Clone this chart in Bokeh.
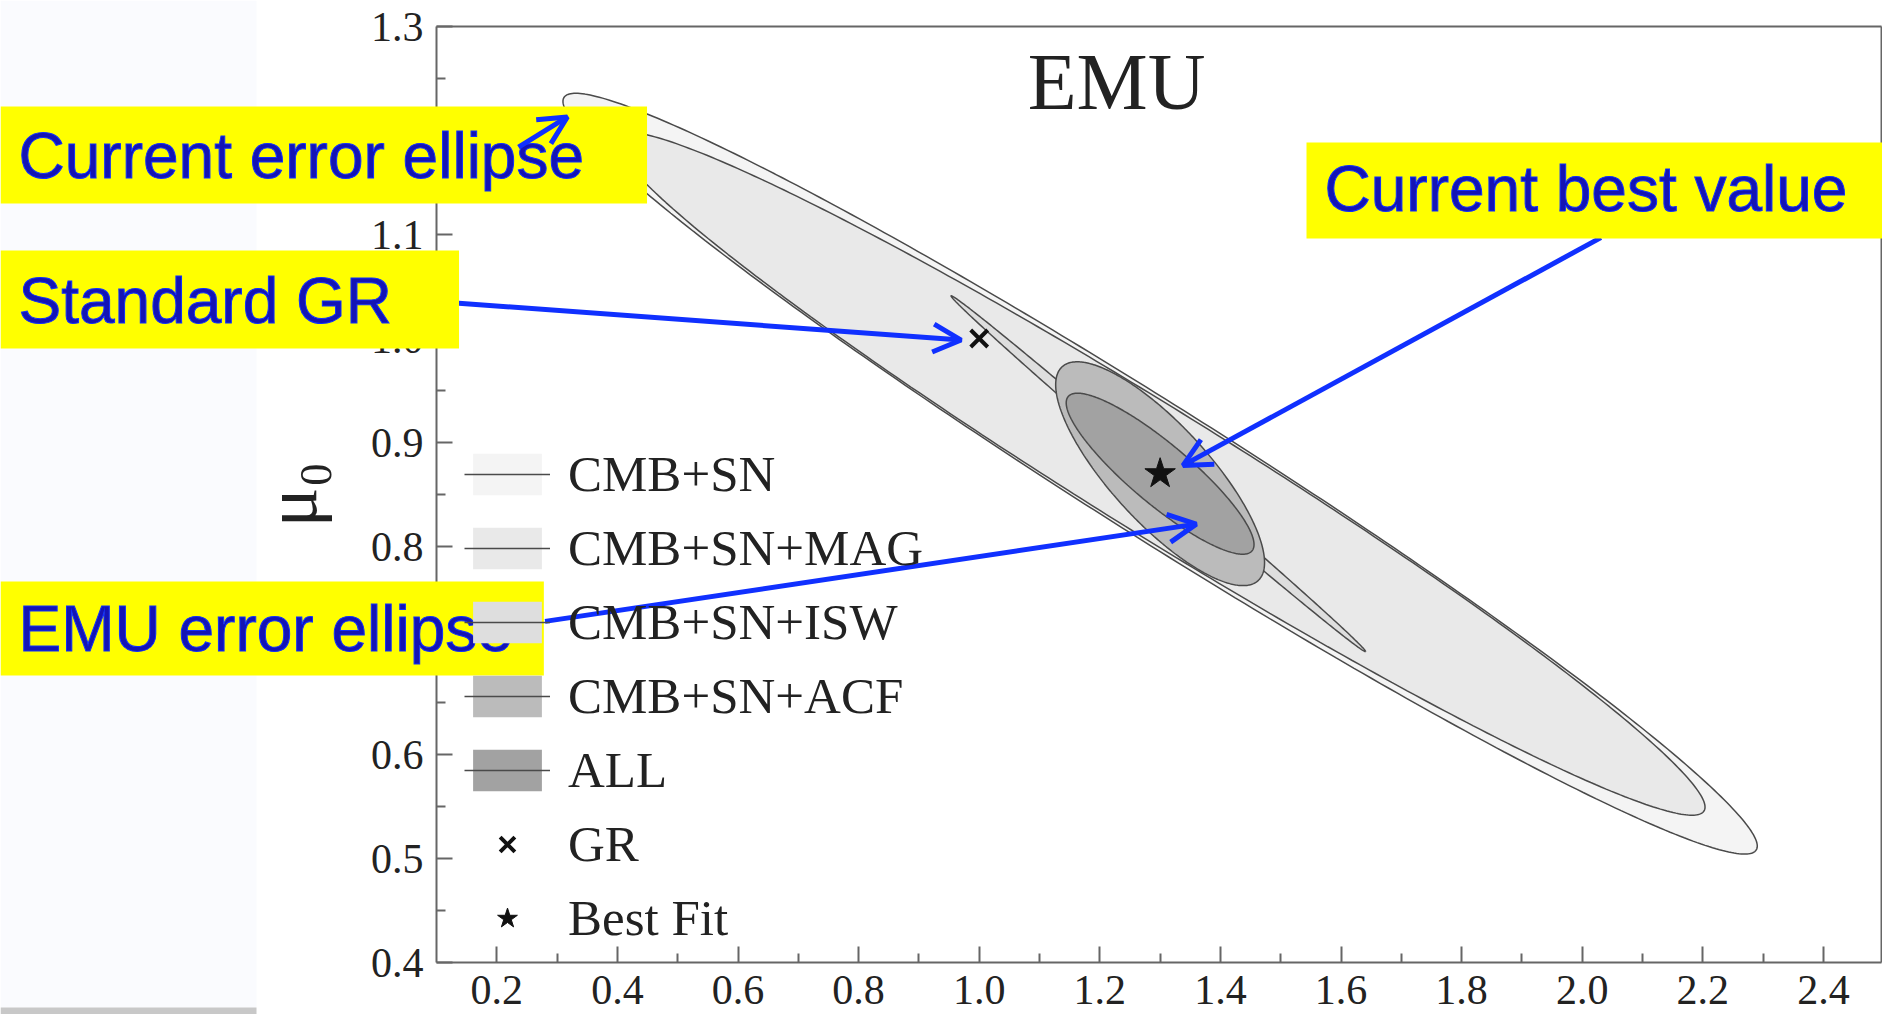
import numpy as np
from bokeh.plotting import figure
from bokeh.models import (Legend, LegendItem, Label, Arrow, OpenHead, FixedTicker,
                          LinearAxis, BoxAnnotation)
from bokeh.embed import file_html
from bokeh.resources import INLINE

# ---------------- values ----------------
contour_labels = ["CMB+SN", "CMB+SN+MAG", "CMB+SN+ISW", "CMB+SN+ACF", "ALL"]
# each contour: centre, half major-axis vector and half minor-axis vector (data units)
center_x = [1.300, 1.300, 1.297, 1.300, 1.300]
center_y = [0.870, 0.870, 0.870, 0.870, 0.870]
major_dx = [0.9886, 0.9020, 0.3436, 0.1625, 0.1524]
major_dy = [-0.3618, -0.3243, -0.1710, -0.1028, -0.0742]
minor_dx = [-0.0584, -0.0551, -0.0065, -0.0599, -0.0320]
minor_dy = [-0.0537, -0.0515, -0.0044, -0.0318, -0.0221]

gr_x = [1.0]
gr_y = [1.0]
best_x = [1.30]
best_y = [0.87]

x_ticks = [0.2, 0.4, 0.6, 0.8, 1.0, 1.2, 1.4, 1.6, 1.8, 2.0, 2.2, 2.4]
x_tick_labels = ["0.2", "0.4", "0.6", "0.8", "1.0", "1.2", "1.4", "1.6", "1.8", "2.0", "2.2", "2.4"]
x_minor = [0.3, 0.5, 0.7, 0.9, 1.1, 1.3, 1.5, 1.7, 1.9, 2.1, 2.3]
y_ticks = [0.4, 0.5, 0.6, 0.7, 0.8, 0.9, 1.0, 1.1, 1.2, 1.3]
y_tick_labels = ["0.4", "0.5", "0.6", "0.7", "0.8", "0.9", "1.0", "1.1", "1.2", "1.3"]
y_minor = [0.45, 0.55, 0.65, 0.75, 0.85, 0.95, 1.05, 1.15, 1.25]
x_bounds = (0.1, 2.496)
y_bounds = (0.4, 1.3)

note_texts = ["Current error ellipse", "Standard GR", "Current best value", "EMU error ellipse"]
arrow_x0 = [0.236, 0.137, 2.031, 0.280]
arrow_y0 = [1.184, 1.034, 1.097, 0.728]
arrow_x1 = [0.317, 0.970, 1.338, 1.360]
arrow_y1 = [1.213, 0.9985, 0.878, 0.8215]

# ---------------- styling ----------------
fills = ["#f4f4f4", "#e9e9e9", "#dedede", "#bbbbbb", "#a2a2a2"]
edge = "#4a4a4a"
spine = "#666666"
serif = "Liberation Serif"
sans = "Liberation Sans"
blue = "#1030ff"

W, H = 1882, 1014
# the frame fills the whole canvas; the axes sit at fixed data locations
p = figure(width=W, height=H, x_range=(-0.6231, 2.498), y_range=(0.35, 1.325),
           output_backend="svg", toolbar_location=None,
           min_border_left=0, min_border_right=0, min_border_top=0, min_border_bottom=0)
p.background_fill_color = "white"
p.border_fill_color = "white"
p.grid.visible = False
p.outline_line_color = None

# faint slide panel on the left and its grey strip
p.add_layout(BoxAnnotation(left=0, right=256, bottom=7, top=H, left_units="screen", right_units="screen",
                           bottom_units="screen", top_units="screen", fill_color="#fafbfe",
                           fill_alpha=1, line_alpha=0, level="underlay"))
p.add_layout(BoxAnnotation(left=0, right=256, bottom=0, top=7, left_units="screen", right_units="screen",
                           bottom_units="screen", top_units="screen", fill_color="#c8c8c8",
                           fill_alpha=1, line_alpha=0, level="underlay"))

t = np.linspace(0, 2 * np.pi, 400)
legend_items = []
for i, name in enumerate(contour_labels):
    xs = center_x[i] + np.cos(t) * major_dx[i] + np.sin(t) * minor_dx[i]
    ys = center_y[i] + np.cos(t) * major_dy[i] + np.sin(t) * minor_dy[i]
    fr = p.patch(xs, ys, fill_color=fills[i], line_alpha=0)
    lr = p.line(xs, ys, line_color=edge, line_width=1.5)
    legend_items.append(LegendItem(label=name, renderers=[fr, lr]))

gr = p.scatter(gr_x, gr_y, marker="x", size=24, line_width=4, line_color="#111111")
bf = p.scatter(best_x, best_y, marker="star", size=32, fill_color="#111111", line_color="#111111")
legend_items.append(LegendItem(label="GR", renderers=[gr]))
legend_items.append(LegendItem(label="Best Fit", renderers=[bf]))

legend = Legend(items=legend_items, location=(464, 67), padding=0, margin=0, spacing=16,
                glyph_width=86, glyph_height=52, label_standoff=18,
                label_text_font=serif, label_text_font_size="51px", label_text_color="#222222",
                background_fill_alpha=0, border_line_alpha=0)
p.add_layout(legend)

# axes
xa, ya = p.xaxis[0], p.yaxis[0]
xa.fixed_location = y_bounds[0]
xa.bounds = x_bounds
ya.fixed_location = x_bounds[0]
ya.bounds = y_bounds
for ax in (xa, ya):
    ax.major_tick_in = 16
    ax.major_tick_out = 0
    ax.minor_tick_in = 9
    ax.minor_tick_out = 0
    ax.axis_line_color = spine
    ax.axis_line_width = 2
    ax.major_tick_line_color = spine
    ax.major_tick_line_width = 2
    ax.minor_tick_line_color = spine
    ax.minor_tick_line_width = 2
    ax.major_label_text_font = serif
    ax.major_label_text_font_size = "42px"
    ax.major_label_text_color = "#222222"
xa.ticker = FixedTicker(ticks=x_ticks, minor_ticks=x_minor)
ya.ticker = FixedTicker(ticks=y_ticks, minor_ticks=y_minor)
xa.major_label_overrides = dict(zip(x_ticks, x_tick_labels))
ya.major_label_overrides = dict(zip(y_ticks, y_tick_labels))
xa.major_label_standoff = 13
ya.major_label_standoff = 13
ya.axis_label = "μ₀"
ya.axis_label_text_font = serif
ya.axis_label_text_font_size = "74px"
ya.axis_label_text_font_style = "normal"
ya.axis_label_text_color = "#222222"
ya.axis_label_standoff = 36

# top and right box lines
top_ax = LinearAxis(fixed_location=y_bounds[1], bounds=x_bounds, ticker=FixedTicker(ticks=[]),
                    axis_line_color=spine, axis_line_width=2, major_tick_line_alpha=0,
                    minor_tick_line_alpha=0, major_label_text_alpha=0)
right_ax = LinearAxis(fixed_location=x_bounds[1], bounds=y_bounds, ticker=FixedTicker(ticks=[]),
                      axis_line_color=spine, axis_line_width=2, major_tick_line_alpha=0,
                      minor_tick_line_alpha=0, major_label_text_alpha=0)
p.add_layout(top_ax, "above")
p.add_layout(right_ax, "right")

# panel title inside the plot
p.add_layout(Label(x=1.2277, y=1.2462, text="EMU", text_align="center", text_baseline="alphabetic",
                   text_font=serif, text_font_size="80px", text_color="#222222"))

def arrow(i, level="annotation"):
    return Arrow(x_start=arrow_x0[i], y_start=arrow_y0[i], x_end=arrow_x1[i], y_end=arrow_y1[i],
                 line_color=blue, line_width=5, level=level,
                 end=OpenHead(size=28, line_width=5, line_color=blue))

for i in (1, 2, 3):
    p.add_layout(arrow(i))

# annotation boxes: anchor = top-left of the yellow box (screen px, y from bottom);
# padding = (left, right, top, bottom)
note_pos = [(0, 908, (18, 63, 13, 12)),
            (0, 764, (18, 67, 14, 12)),
            (1306, 872, (18, 35, 10, 14)),
            (0, 433, (18, 31, 11, 11))]
for txt, (sx, sy, pad) in zip(note_texts, note_pos):
    p.add_layout(Label(x=sx, y=sy, x_units="screen", y_units="screen", text=txt,
                       text_align="left", text_baseline="top", level="overlay",
                       text_font=sans, text_font_size="64px", text_color="#1414b4",
                       text_outline_color=blue,
                       background_fill_color="#ffff00", padding=pad))

p.add_layout(arrow(0, level="overlay"))

open("out.html", "w").write(file_html(p, INLINE))
